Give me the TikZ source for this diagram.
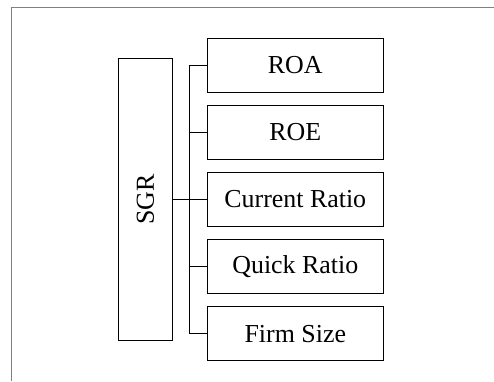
\documentclass[tikz,border=0pt]{standalone}
\usepackage{fontspec}
\setmainfont{Liberation Serif}
\usepackage{graphicx}
\begin{document}
\begin{tikzpicture}[x=1bp,y=-1bp,
  box/.style={draw=black, line width=1bp, fill=white, inner sep=0pt,
    minimum width=176bp, minimum height=53.5bp,
    font=\fontsize{26}{30}\selectfont},
  conn/.style={draw=black, line width=1bp}]
\useasboundingbox (0,0) rectangle (494,381);
\draw[line width=1bp, draw=black!50] (11,381) -- (11,7.5) -- (494,7.5);
\node[box, minimum width=54bp, minimum height=282.4bp] (sgr) at (145.3,199.5) {\rotatebox{90}{SGR}};
\node[box] (roa) at (295.3,65.3) {ROA};
\node[box] (roe) at (295.3,132.3) {ROE};
\node[box] (cur) at (295.3,199.5) {Current Ratio};
\node[box] (qui) at (295.3,266.6) {Quick Ratio};
\node[box] (firm) at (295.3,333.7) {Firm Size};
\coordinate (ttop) at (189.7,65.3);
\coordinate (tbot) at (189.7,333.7);
\draw[conn] (roa.west) -- (ttop) -- (tbot) -- (firm.west);
\draw[conn] (roe.west) -- (roe.west -| ttop);
\draw[conn] (qui.west) -- (qui.west -| ttop);
\draw[conn] (sgr.east) -- (cur.west);
\end{tikzpicture}
\end{document}
